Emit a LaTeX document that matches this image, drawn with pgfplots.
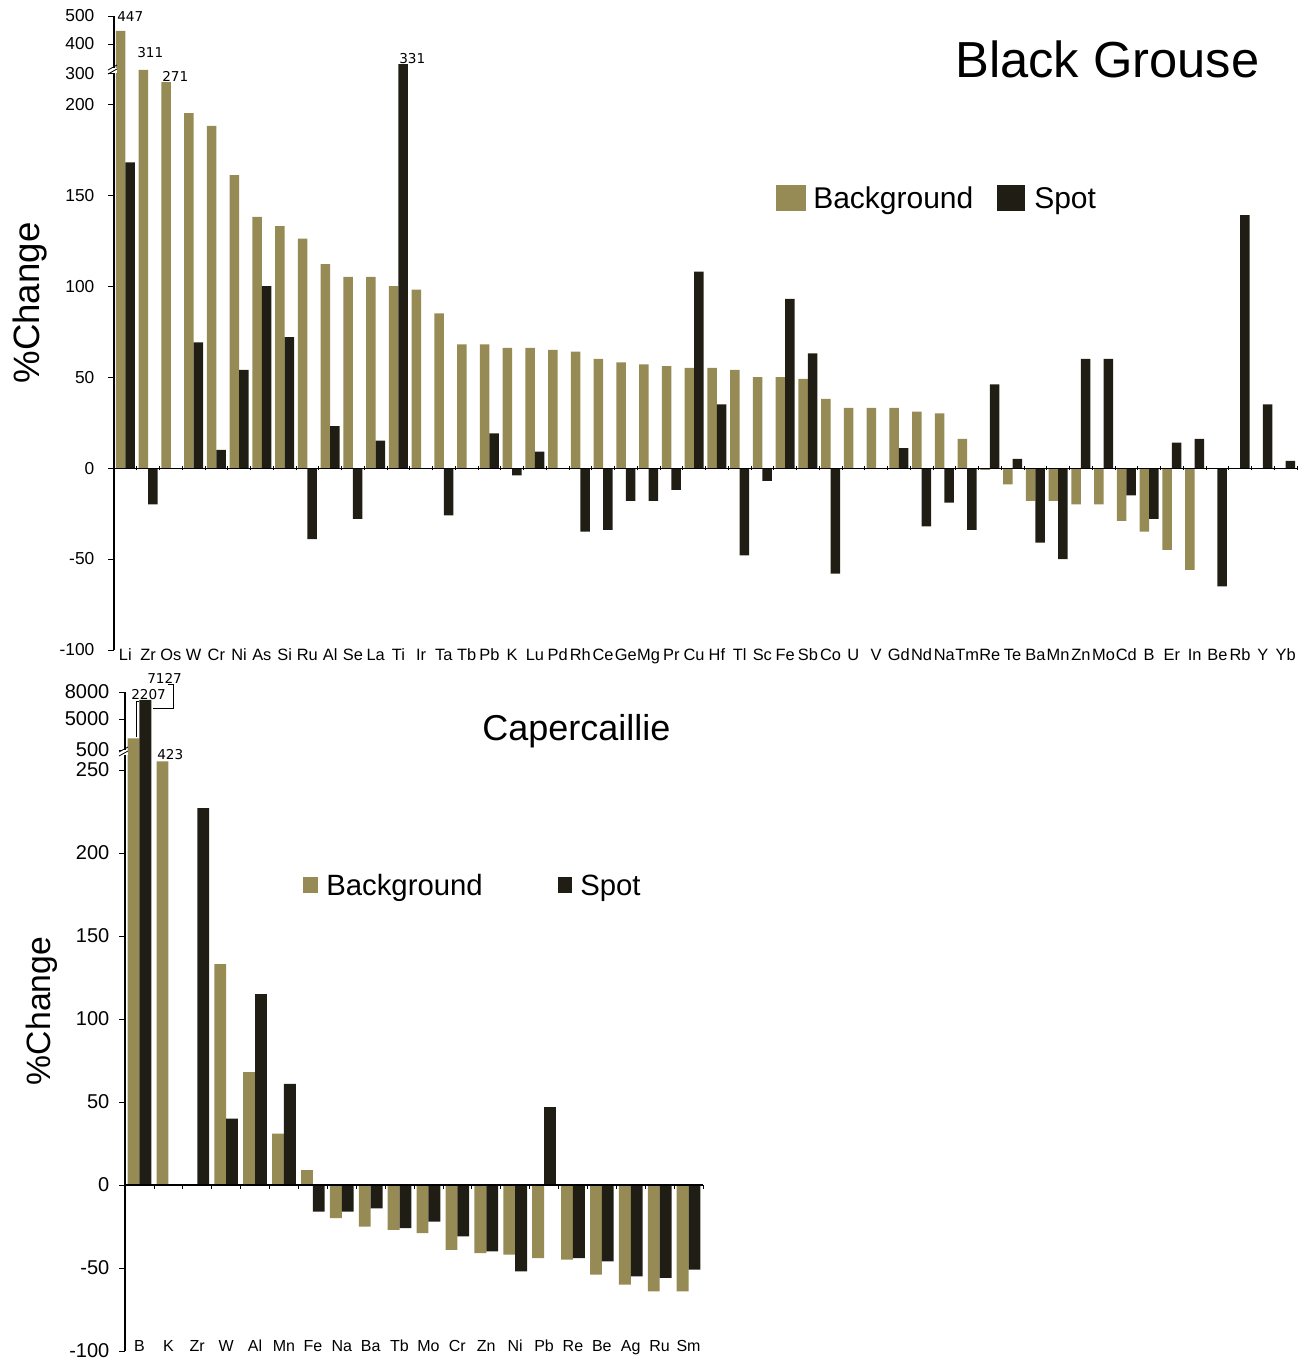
\documentclass[border=0pt]{standalone}
\usepackage{pgfplots}
\usepackage{pgfplotstable}
\pgfplotsset{compat=1.18}
\usepackage{fontspec}
\setmainfont{Liberation Sans}
\newfontfamily\dejavu{DejaVu Sans}
\definecolor{bgc}{HTML}{968A55}
\definecolor{spc}{HTML}{201E14}

% broken-axis display mappings (true value -> plotted height)
\newcommand{\topmap}[1]{((#1)>300 ? 217+((#1)-300)*0.158 : ((#1)>200 ? 200+((#1)-200)*0.17 : (#1)))}
\newcommand{\botmap}[1]{((#1)>5000 ? 280.7+((#1)-5000)*0.005433 : ((#1)>500 ? 262+((#1)-500)*0.004156 : ((#1)>250 ? 250+((#1)-250)*0.03 : (#1))))}

\pgfplotstableread{
name bg spot
Li 447 168
Zr 311 -20
Os 271 0
W 195 69
Cr 188 10
Ni 161 54
As 138 100
Si 133 72
Ru 126 -39
Al 112 23
Se 105 -28
La 105 15
Ti 100 331
Ir 98 0
Ta 85 -26
Tb 68 0
Pb 68 19
K 66 -4
Lu 66 9
Pd 65 0
Rh 64 -35
Ce 60 -34
Ge 58 -18
Mg 57 -18
Pr 56 -12
Cu 55 108
Hf 55 35
Tl 54 -48
Sc 50 -7
Fe 50 93
Sb 49 63
Co 38 -58
U 33 0
V 33 0
Gd 33 11
Nd 31 -32
Na 30 -19
Tm 16 -34
Re -1 46
Te -9 5
Ba -18 -41
Mn -18 -50
Zn -20 60
Mo -20 60
Cd -29 -15
B -35 -28
Er -45 14
In -56 16
Be 0 -65
Rb 0 139
Y 0 35
Yb 0 4
}\toptab

\pgfplotstableread{
name bg spot
B 2207 7127
K 423 0
Zr 0 227
W 133 40
Al 68 115
Mn 31 61
Fe 9 -16
Na -20 -16
Ba -25 -14
Tb -27 -26
Mo -29 -22
Cr -39 -31
Zn -41 -40
Ni -42 -52
Pb -44 47
Re -45 -44
Be -54 -46
Ag -60 -55
Ru -64 -56
Sm -64 -51
}\bottab

\begin{document}
\begin{tikzpicture}
\useasboundingbox (0,0) rectangle (984.75pt,-1020.75pt);

% ---------------- Black Grouse ----------------
\begin{axis}[
  at={(85.5pt,-487.5pt)}, anchor=south west, scale only axis,
  width=887.25pt, height=475.5pt,
  xmin=-0.5, xmax=51.5, ymin=-100, ymax=248.4,
  axis x line=bottom, axis y line=left, axis line style={-},
  x axis line style={draw=none},
  xtick={0,...,51}, xticklabels from table={\toptab}{name},
  xtick style={draw=none},
  xticklabel style={font=\fontsize{12.3}{14}\selectfont, text height=0.72em, text depth=0.2em, yshift=7.25pt},
  ytick={-100,-50,0,50,100,150,200,217,233,248.4},
  yticklabels={-100,-50,0,50,100,150,200,300,400,500},
  yticklabel style={font=\fontsize{13}{15}\selectfont, xshift=-6.75pt},
  ytick style={black, line width=0.6pt},
  tick align=outside, major tick length=4.5pt,
  /pgf/number format/assume math mode=true,
  axis line style={black, line width=0.8pt},
  clip=false,
]
\addplot[ybar, bar width=0.42, bar shift=-0.21, fill=bgc, draw=none]
  table[x expr=\coordindex, y expr={\topmap{\thisrow{bg}}}]{\toptab};
\addplot[ybar, bar width=0.42, bar shift=0.21, fill=spc, draw=none]
  table[x expr=\coordindex, y expr={\topmap{\thisrow{spot}}}]{\toptab};
\draw[black, line width=0.8pt] (axis cs:-0.5,0) -- (axis cs:51.5,0);
\pgfplotsinvokeforeach{0,...,51}{
  \draw[black, line width=0.6pt] ([yshift=-1.5pt]axis cs:#1+0.5,0) -- ([yshift=1.5pt]axis cs:#1+0.5,0);
}
\end{axis}

% ---------------- Capercaillie ----------------
\begin{axis}[
  at={(93.75pt,-1013.25pt)}, anchor=south west, scale only axis,
  width=433.5pt, height=494.25pt,
  xmin=-0.5, xmax=19.5, ymin=-100, ymax=297,
  axis x line=bottom, axis y line=left, axis line style={-},
  x axis line style={draw=none},
  xtick={0,...,19}, xticklabels from table={\bottab}{name},
  xtick style={draw=none},
  xticklabel style={font=\fontsize{12}{14}\selectfont, text height=0.72em, text depth=0.2em, yshift=14.75pt},
  ytick={-100,-50,0,50,100,150,200,250,262,280.7,297},
  yticklabels={-100,-50,0,50,100,150,200,250,500,5000,8000},
  yticklabel style={font=\fontsize{15}{17}\selectfont, xshift=-3.75pt},
  ytick style={black, line width=0.6pt},
  tick align=outside, major tick length=4.5pt,
  /pgf/number format/assume math mode=true,
  axis line style={black, line width=0.8pt},
  clip=false,
]
\addplot[ybar, bar width=0.41, bar shift=-0.205, fill=bgc, draw=none]
  table[x expr=\coordindex, y expr={\botmap{\thisrow{bg}}}]{\bottab};
\addplot[ybar, bar width=0.41, bar shift=0.205, fill=spc, draw=none]
  table[x expr=\coordindex, y expr={\botmap{\thisrow{spot}}}]{\bottab};
\draw[black, line width=0.8pt] (axis cs:-0.5,0) -- (axis cs:19.5,0);
\pgfplotsinvokeforeach{0,...,19}{
  \draw[black, line width=0.6pt] (axis cs:#1+0.5,0) -- ([yshift=-3pt]axis cs:#1+0.5,0);
}
\end{axis}

% ---------------- annotations (px coordinates) ----------------
\begin{scope}[x=0.75pt, y=-0.75pt]
  % axis breaks
  \fill[white] (111,67.5) rectangle (117,72.5);
  \draw[black, line width=0.6pt] (108,70) -- (117,65);
  \draw[black, line width=0.6pt] (108,74) -- (117,69);
  \fill[white] (122,749.5) rectangle (128,754.5);
  \draw[black, line width=0.6pt] (119,752) -- (128,747);
  \draw[black, line width=0.6pt] (119,756) -- (128,751);

  % titles
  \node[anchor=base west, inner sep=0, font=\fontsize{38}{40}\selectfont] at (955,77) {Black Grouse};
  \node[anchor=base west, inner sep=0, font=\fontsize{27}{30}\selectfont] at (482,740) {Capercaillie};

  % y labels
  \node[rotate=90, inner sep=0, font=\fontsize{27.5}{30}\selectfont] at (30,303) {\%Change};
  \node[rotate=90, inner sep=0, font=\fontsize{25.3}{28}\selectfont] at (42,1011) {\%Change};

  % legends
  \fill[bgc] (776,185) rectangle (806,211);
  \node[anchor=base west, inner sep=0, font=\fontsize{22.5}{25}\selectfont] at (813,208) {Background};
  \fill[spc] (997,185) rectangle (1025,211);
  \node[anchor=base west, inner sep=0, font=\fontsize{22.5}{25}\selectfont] at (1034,208) {Spot};

  \fill[bgc] (303,877) rectangle (318,893);
  \node[anchor=base west, inner sep=0, font=\fontsize{22}{25}\selectfont] at (326,895) {Background};
  \fill[spc] (558,877) rectangle (572,893);
  \node[anchor=base west, inner sep=0, font=\fontsize{22}{25}\selectfont] at (580,895) {Spot};

  % value labels for broken bars
  \begin{scope}[every node/.style={anchor=base west, inner sep=0, font=\dejavu\fontsize{10.2}{12}\selectfont}]
    \node at (117,21) {447};
    \node at (137,57) {311};
    \node at (162,81) {271};
    \node at (399,63) {331};
    \node at (147,683) {7127};
    \node at (131,699) {2207};
    \node at (157,759) {423};
  \end{scope}
  \draw[black, line width=0.5pt] (136,737) -- (136,701) -- (139,701);
  \draw[black, line width=0.5pt] (153,708) -- (173,708) -- (173,684) -- (168,684);
\end{scope}
\end{tikzpicture}
\end{document}
